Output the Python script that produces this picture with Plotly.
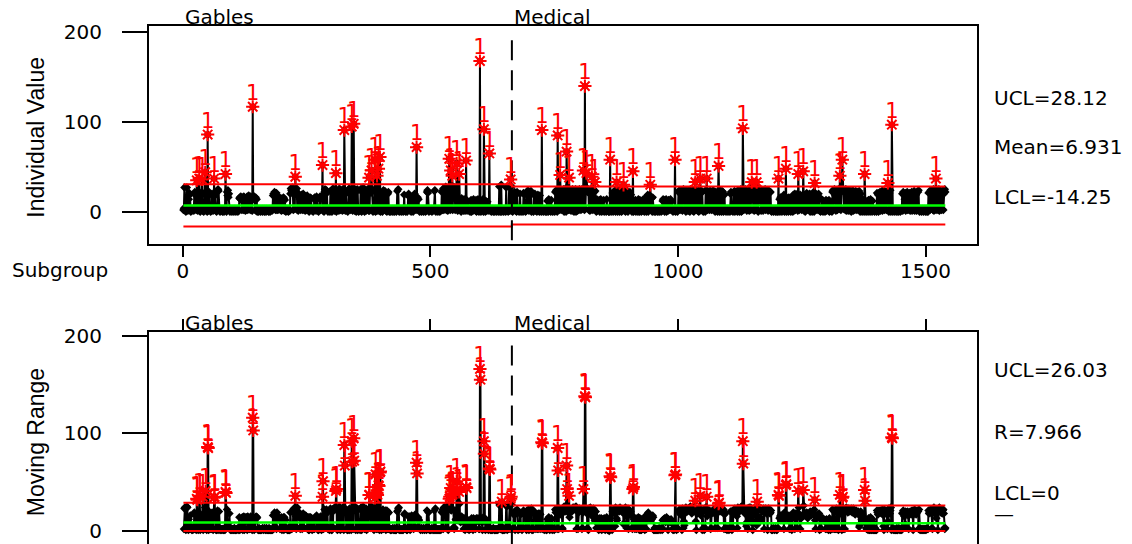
import plotly.graph_objects as go

# ---------------- data (read/estimated from the reference picture) ----------------
base_values = [
    2, 4, 27, 3, 1, 0, 2, 27, 3, 1, 2, 14, 21, 19, 3, 0, 2, 1, 3, 2,
    4, 1, 20, 22, 19, 3, 2, 0, 3, 1, 2, 21, 3, 1, 0, 2, 18, 22, 3, 1,
    2, 0, 3, 20, 24, 3, 1, 2, 0, 3, 1, 2, 22, 19, 2, 0, 3, 1, 20, 2,
    1, 3, 0, 2, 18, 2, 1, 0, 3, 24, 25, 23, 3, 1, 0, 2, 3, 1, 2, 0,
    2, 1, 0, 3, 2, 1, 3, 0, 22, 18, 24, 16, 20, 2, 0, 1, 3, 2, 0, 2,
    1, 2, 0, 3, 2, 1, 0, 2, 1, 3, 0, 2, 1, 15, 16, 14, 17, 15, 2, 16,
    15, 2, 17, 16, 14, 1, 15, 2, 16, 17, 2, 15, 18, 16, 14, 2, 17, 15, 2, 1,
    3, 14, 16, 17, 15, 2, 16, 1, 14, 0, 2, 1, 0, 3, 2, 1, 0, 2, 1, 3,
    0, 2, 1, 3, 0, 2, 1, 0, 3, 1, 2, 1, 0, 3, 2, 0, 1, 2, 3, 1,
    2, 18, 20, 3, 22, 17, 2, 19, 21, 2, 16, 2, 15, 3, 16, 14, 2, 15, 1, 2,
    14, 2, 16, 15, 1, 13, 2, 0, 3, 1, 2, 1, 0, 3, 2, 1, 20, 26, 24, 22,
    27, 23, 2, 25, 21, 3, 1, 24, 22, 26, 2, 21, 1, 19, 3, 16, 18, 2, 15, 19,
    17, 2, 20, 16, 2, 15, 1, 17, 2, 15, 18, 16, 2, 1, 0, 14, 16, 2, 15, 2,
    1, 3, 0, 2, 14, 16, 2, 15, 1, 17, 14, 2, 1, 0, 3, 15, 17, 2, 16, 15,
    17, 2, 1, 3, 0, 22, 25, 20, 2, 24, 21, 2, 0, 3, 1, 2, 0, 23, 2, 1,
    0, 22, 26, 3, 24, 1, 25, 2, 1, 0, 3, 2, 22, 24, 1, 26, 3, 2, 24, 21,
    23, 1, 25, 2, 3, 0, 24, 1, 20, 22, 2, 1, 0, 3, 25, 26, 3, 22, 2, 3,
    2, 24, 1, 3, 2, 26, 1, 22, 23, 0, 2, 25, 24, 2, 0, 3, 1, 2, 25, 1,
    0, 22, 2, 27, 21, 2, 0, 3, 24, 1, 2, 23, 25, 22, 1, 2, 1, 24, 27, 21,
    2, 23, 3, 0, 2, 1, 24, 2, 0, 3, 1, 2, 3, 1, 0, 2, 1, 3, 0, 2,
    1, 20, 0, 22, 24, 21, 3, 23, 2, 1, 21, 0, 2, 20, 22, 3, 0, 2, 1, 0,
    2, 1, 3, 0, 2, 1, 0, 3, 2, 1, 0, 3, 23, 2, 25, 1, 0, 2, 3, 1,
    0, 2, 3, 1, 0, 2, 19, 1, 3, 0, 2, 1, 0, 3, 18, 20, 17, 2, 1, 3,
    0, 16, 1, 14, 0, 2, 15, 20, 3, 17, 2, 1, 13, 16, 2, 14, 3, 0, 2, 1,
    3, 0, 2, 1, 3, 0, 2, 1, 3, 0, 2, 1, 22, 24, 21, 2, 0, 1, 3, 2,
    1, 3, 0, 2, 1, 3, 2, 23, 24, 1, 0, 2, 3, 1, 0, 2, 3, 1, 0, 2,
    1, 3, 22, 2, 24, 26, 2, 23, 3, 25, 28, 2, 24, 3, 1, 2, 26, 3, 24, 2,
    2, 25, 3, 0, 2, 24, 28, 26, 23, 2, 14, 3, 0, 12, 1, 13, 2, 0, 14, 3,
    12, 0, 15, 2, 13, 3, 1, 14, 2, 1, 12, 0, 13, 1, 3, 11, 2, 1, 3, 0,
    2, 13, 0, 12, 2, 1, 14, 2, 11, 3, 1, 13, 0, 12, 1, 14, 2, 0, 2, 3,
    13, 0, 12, 3, 2, 14, 0, 2, 13, 1, 0, 12, 3, 1, 11, 2, 3, 1, 0, 2,
    3, 1, 0, 2, 1, 3, 0, 2, 1, 0, 2, 3, 1, 0, 2, 1, 3, 0, 28, 2,
    0, 2, 30, 0, 1, 2, 3, 0, 2, 1, 3, 0, 27, 2, 1, 3, 0, 2, 28, 1,
    3, 2, 1, 28, 2, 0, 3, 20, 2, 22, 21, 1, 19, 0, 22, 2, 1, 3, 0, 2,
    20, 3, 0, 2, 1, 3, 0, 21, 2, 19, 3, 0, 2, 1, 22, 20, 24, 2, 1, 3,
    21, 2, 23, 0, 1, 3, 2, 0, 19, 2, 20, 1, 3, 17, 0, 2, 19, 1, 3, 0,
    18, 1, 3, 0, 2, 1, 3, 0, 2, 1, 3, 0, 2, 1, 0, 12, 3, 0, 14, 2,
    1, 3, 0, 13, 1, 2, 0, 3, 1, 2, 0, 22, 3, 24, 2, 0, 1, 23, 25, 2,
    24, 1, 22, 2, 21, 24, 22, 3, 25, 0, 23, 3, 26, 0, 2, 24, 3, 22, 2, 1,
    24, 2, 23, 1, 22, 2, 25, 1, 24, 0, 23, 1, 25, 0, 2, 24, 1, 3, 22, 2,
    25, 3, 24, 2, 23, 25, 22, 3, 1, 24, 2, 1, 3, 24, 2, 25, 22, 24, 25, 2,
    24, 1, 25, 2, 23, 3, 24, 2, 25, 3, 22, 2, 23, 3, 0, 14, 1, 12, 3, 2,
    13, 0, 2, 14, 1, 0, 12, 3, 1, 13, 0, 2, 1, 3, 0, 14, 2, 1, 3, 0,
    0, 2, 1, 3, 0, 2, 1, 21, 0, 22, 1, 19, 24, 0, 20, 1, 22, 0, 23, 1,
    21, 0, 24, 1, 22, 0, 20, 1, 23, 0, 22, 1, 24, 0, 21, 18, 1, 23, 0, 2,
    20, 3, 22, 2, 19, 3, 0, 2, 1, 0, 12, 3, 1, 13, 0, 2, 11, 3, 0, 14,
    1, 0, 13, 2, 1, 0, 12, 3, 1, 14, 2, 0, 1, 13, 2, 0, 17, 3, 19, 0,
    16, 3, 18, 0, 17, 3, 15, 0, 16, 2, 1, 0, 3, 2, 0, 1, 3, 2, 0, 1,
    3, 0, 2, 1, 3, 0, 2, 1, 12, 14, 2, 13, 0, 11, 2, 14, 0, 12, 2, 1,
    13, 2, 12, 3, 14, 2, 11, 3, 1, 0, 2, 3, 1, 3, 0, 2, 1, 3, 0, 2,
    22, 2, 24, 3, 20, 2, 23, 24, 1, 22, 25, 15, 21, 3, 24, 0, 23, 2, 22, 1,
    24, 1, 22, 0, 25, 2, 21, 3, 23, 1, 24, 0, 22, 2, 1, 23, 24, 2, 20, 1,
    22, 0, 24, 1, 3, 21, 2, 23, 22, 3, 0, 2, 1, 3, 0, 24, 2, 3, 22, 2,
    21, 3, 23, 2, 21, 23, 20, 2, 22, 3, 24, 2, 21, 3, 0, 22, 1, 21, 3, 0,
    23, 1, 22, 0, 24, 1, 21, 0, 23, 1, 22, 0, 2, 19, 1, 3, 0, 2, 1, 3,
    0, 2, 1, 3, 0, 20, 22, 2, 1, 3, 0, 21, 1, 23, 0, 22, 1, 18, 3, 0,
    24, 1, 21, 0, 22, 1, 25, 0, 23, 1, 3, 24, 2, 21, 3, 25, 17, 22, 1, 24,
    22, 2, 25, 1, 16, 26, 2, 23, 1, 25, 24, 2, 22, 1, 24, 2, 12, 27, 14, 3,
    24, 0, 22, 13, 26, 12, 23, 1, 24, 2, 22, 1, 24, 22, 3, 25, 2, 21, 3, 22,
    23, 1, 24, 2, 21, 3, 22, 1, 0, 2, 1, 3, 0, 2, 1, 3, 0, 2, 1, 0,
    3, 0, 2, 1, 14, 0, 16, 1, 13, 0, 15, 1, 17, 19, 0, 14, 1, 16, 0, 15,
    1, 13, 0, 16, 14, 1, 12, 0, 2, 1, 15, 0, 19, 1, 18, 20, 2, 16, 3, 17,
    20, 1, 3, 18, 2, 17, 19, 3, 16, 2, 18, 3, 0, 19, 1, 17, 0, 18, 2, 21,
    3, 16, 2, 19, 3, 20, 0, 17, 1, 18, 0, 19, 1, 22, 0, 2, 21, 19, 3, 17,
    2, 18, 3, 20, 2, 1, 3, 0, 2, 14, 1, 13, 0, 12, 1, 11, 0, 2, 13, 1,
    3, 12, 2, 1, 13, 0, 2, 1, 11, 3, 0, 22, 24, 3, 23, 25, 19, 21, 1, 24,
    22, 2, 24, 25, 23, 3, 1, 22, 2, 25, 24, 0, 23, 25, 3, 24, 22, 2, 25, 1,
    23, 2, 21, 1, 24, 2, 22, 1, 23, 0, 21, 2, 24, 1, 22, 2, 20, 3, 23, 2,
    21, 3, 22, 2, 19, 23, 17, 0, 20, 1, 13, 0, 12, 1, 13, 0, 2, 11, 3, 0,
    2, 12, 1, 0, 13, 2, 1, 0, 14, 2, 1, 0, 12, 3, 2, 1, 0, 3, 2, 1,
    0, 21, 2, 19, 0, 21, 2, 22, 1, 20, 2, 23, 1, 18, 23, 24, 2, 21, 3, 22,
    2, 20, 22, 3, 23, 0, 21, 3, 24, 0, 1, 3, 2, 0, 1, 3, 2, 0, 1, 2,
    3, 0, 1, 2, 0, 3, 1, 2, 0, 1, 3, 2, 20, 1, 22, 3, 18, 14, 21, 1,
    20, 3, 22, 2, 18, 20, 2, 21, 1, 19, 2, 22, 1, 20, 19, 2, 23, 1, 21, 2,
    19, 1, 22, 2, 22, 24, 2, 0, 1, 3, 2, 0, 1, 3, 2, 0, 1, 3, 2, 0,
    1, 3, 0, 2, 0, 21, 3, 22, 2, 24, 3, 21, 24, 22, 2, 25, 1, 23, 2, 20,
    1, 24, 2, 23, 22, 2, 25, 1, 24, 3, 22, 2, 21, 3, 24, 2, 20, 23, 25, 22,
]

# observations that stand out above the band (subgroup number, value)
flag_index = [28, 33, 39, 45, 50, 63, 86, 141, 227, 282, 309, 326, 341, 345, 376,
              381, 388, 392, 395, 398, 472, 538, 541, 544, 553, 558, 572, 600, 608, 619,
              662, 725, 757, 762, 775, 780, 809, 812, 815, 826, 832, 863, 876, 890, 909,
              944, 994, 1035, 1045, 1058, 1082, 1131, 1149, 1159, 1203, 1218, 1243, 1253,
              1276, 1327, 1332, 1377, 1424, 1432, 1521]
flag_value = [35, 37, 36, 44, 86, 37, 42, 117, 39, 52, 43, 91, 95, 98, 38,
              46, 58, 40, 48, 61, 72, 59, 46, 40, 54, 42, 57, 168, 92, 65,
              36, 91, 85, 41, 67, 38, 46, 140, 43, 39, 33, 58, 33, 30, 45,
              30, 58, 33, 37, 37, 51, 93, 33, 33, 37, 48, 42, 45,
              32, 40, 58, 42, 32, 97, 37]

phase_names = ["Gables", "Medical"]
phase_start = [1, 665]
i_ucl = [30.6, 28.12]
i_mean = [7.05, 6.931]
i_lcl = [-16.5, -14.25]
mr_ucl = [29.0, 26.03]
mr_mean = [8.8, 7.966]
mr_lcl = [0.0, 0.0]

x_ticks = [0, 500, 1000, 1500]
y_ticks = [0, 100, 200]
i_labels = ["UCL=28.12", "Mean=6.931", "LCL=-14.25"]
mr_labels = ["UCL=26.03", "R=7.966", "LCL=0", "\u2014"]

# ---------------- derived series ----------------
values = list(base_values)
for k, v in zip(flag_index, flag_value):
    values[k - 1] = v
n = len(values)
idx = list(range(1, n + 1))
boundary = phase_start[1] - 0.5


def phase_of(i):
    return 0 if i < phase_start[1] else 1


mr = []
for i in idx:
    if i in phase_start:
        mr.append(None)
    else:
        mr.append(abs(values[i - 1] - values[i - 2]))

i_fx = [i for i in idx if values[i - 1] > i_ucl[phase_of(i)] or values[i - 1] < i_lcl[phase_of(i)]]
i_fy = [values[i - 1] for i in i_fx]
mr_fx = [i for i in idx if mr[i - 1] is not None and mr[i - 1] > mr_ucl[phase_of(i)]]
mr_fy = [mr[i - 1] for i in mr_fx]

# ---------------- figure ----------------
FONT = "DejaVu Sans"
BLACK = "#000000"
RED = "#ff0000"
GREEN = "#00ff00"

fig = go.Figure()


def add_chart(xa, ya, yv, fx, fy, limits, dash_top, dash_bottom):
    fig.add_trace(go.Scatter(
        x=idx, y=yv, mode="lines+markers", xaxis=xa, yaxis=ya,
        line=dict(color=BLACK, width=2), connectgaps=False,
        marker=dict(symbol="diamond", size=6.5, color=BLACK), hoverinfo="skip"))
    for vals, col in limits:
        fig.add_trace(go.Scatter(
            x=[1, boundary, boundary, n], y=[vals[0], vals[0], vals[1], vals[1]],
            mode="lines", xaxis=xa, yaxis=ya,
            line=dict(color=col, width=2.5 if col == GREEN else 2),
            hoverinfo="skip"))
    fig.add_trace(go.Scatter(
        x=[boundary, boundary], y=[dash_top, dash_bottom], mode="lines",
        xaxis=xa, yaxis=ya, line=dict(color=BLACK, width=2, dash="20px,10px"),
        hoverinfo="skip"))
    fig.add_trace(go.Scatter(
        x=fx, y=fy, mode="markers", xaxis=xa, yaxis=ya,
        marker=dict(symbol="asterisk-open", size=11, color=RED, line=dict(color=RED, width=2)),
        hoverinfo="skip"))
    # the "1" test labels sitting on the asterisks
    fig.add_trace(go.Scatter(
        x=fx, y=fy, mode="markers+text", xaxis=xa, yaxis=ya,
        marker=dict(size=1, color="rgba(0,0,0,0)"),
        text=["1"] * len(fx), textposition="top center",
        textfont=dict(family=FONT, size=21, color=RED), hoverinfo="skip"))


add_chart("x", "y", values, i_fx, i_fy,
          [(i_ucl, RED), (i_mean, GREEN), (i_lcl, RED)], 191, -34)
add_chart("x2", "y2", mr, mr_fx, mr_fy,
          [(mr_ucl, RED), (mr_mean, GREEN), (mr_lcl, RED)], 190, -14)

W, H = 1132, 544
L, R = 149, 155
PW = W - L - R


def px_x(p):
    return (p - L) / PW


def px_y(p):
    return 1 - p / H


tickfont = dict(family=FONT, size=20, color=BLACK)
xrange = [-68.5, 1604]
top_dom = [px_y(244.3), px_y(26)]
bot_dom = [0, px_y(332.3)]

common_x = dict(range=xrange, tickvals=x_ticks, ticks="outside", ticklen=11, tickwidth=2,
                tickcolor=BLACK, showline=True, linewidth=2, linecolor=BLACK,
                showgrid=False, zeroline=False, tickfont=tickfont, automargin=False)
common_y = dict(tickvals=y_ticks, ticks="outside", ticklen=25, tickwidth=2, tickcolor=BLACK,
                showline=True, linewidth=2, linecolor=BLACK, mirror=True,
                showgrid=False, zeroline=False, tickfont=tickfont, ticklabelstandoff=16,
                automargin=False)

annotations = []
for dom, xa_ref in ((top_dom, "x"), (bot_dom, "x2")):
    for name, start in zip(phase_names, [1, boundary]):
        annotations.append(dict(text=name, x=start, xref=xa_ref, y=dom[1], yref="paper",
                                xanchor="left", yanchor="bottom", yshift=-5, showarrow=False,
                                font=dict(family=FONT, size=20, color=BLACK)))

right_pos_top = [126.8, 72.1, 16.4]
right_pos_bot = [165.4, 100.9, 39.4, 17.0]
for lab, yv in zip(i_labels, right_pos_top):
    annotations.append(dict(text=lab, x=px_x(991.5), xref="paper", y=yv, yref="y",
                            xanchor="left", yanchor="middle", showarrow=False,
                            font=dict(family=FONT, size=20, color=BLACK)))
for lab, yv in zip(mr_labels, right_pos_bot):
    annotations.append(dict(text=lab, x=px_x(991.5), xref="paper", y=yv, yref="y2",
                            xanchor="left", yanchor="middle", showarrow=False,
                            font=dict(family=FONT, size=20, color=BLACK)))

annotations.append(dict(text="Subgroup", x=px_x(10), xref="paper", y=px_y(270), yref="paper",
                        xanchor="left", yanchor="middle", showarrow=False,
                        font=dict(family=FONT, size=20, color=BLACK)))
annotations.append(dict(text="Individual Value", x=px_x(35.7), xref="paper", y=px_y(137),
                        yref="paper", xanchor="center", yanchor="middle", textangle=-90,
                        showarrow=False, font=dict(family="Liberation Sans", size=23, color=BLACK)))
annotations.append(dict(text="Moving Range", x=px_x(35.7), xref="paper", y=px_y(442.5),
                        yref="paper", xanchor="center", yanchor="middle", textangle=-90,
                        showarrow=False, font=dict(family="Liberation Sans", size=23, color=BLACK)))

fig.update_layout(
    width=W, height=H,
    autosize=False,
    margin=dict(l=L, r=R, t=0, b=0, pad=0, autoexpand=False),
    paper_bgcolor="white", plot_bgcolor="white",
    showlegend=False,
    xaxis=dict(domain=[0, 1], anchor="y", mirror=True, ticklabelstandoff=-3, **common_x),
    yaxis=dict(domain=top_dom, anchor="x", range=[-36.3, 207.0], **common_y),
    xaxis2=dict(domain=[0, 1], anchor="y2", side="top", showticklabels=False, **common_x),
    yaxis2=dict(domain=bot_dom, anchor="x2", range=[-13.3, 203.5], **common_y),
    annotations=annotations,
)

fig.write_html("out.html", config={"displayModeBar": False},
               post_script="document.body.style.margin='0px';"
                           "document.body.style.overflow='hidden';")
